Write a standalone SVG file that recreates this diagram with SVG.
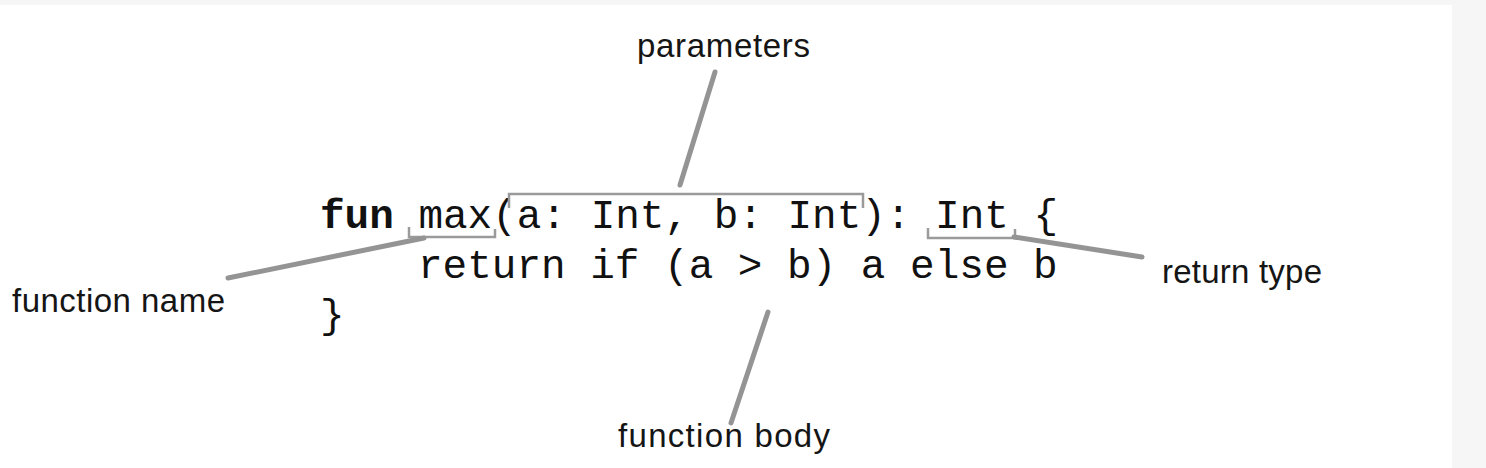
<svg xmlns="http://www.w3.org/2000/svg" width="1486" height="468" viewBox="0 0 1486 468">
<style>
.code{font-family:"Liberation Mono","Courier New",monospace;font-size:41px;fill:#111;white-space:pre}
.bold{font-weight:bold}
.lbl{font-family:"Liberation Sans",Arial,Helvetica,sans-serif;font-size:33px;fill:#151515}
.br{fill:none;stroke:#9a9a9a;stroke-width:2.5}
.ln{fill:none;stroke:#949494;stroke-width:5;stroke-linecap:round}
</style>
<rect x="0" y="0" width="1486" height="468" fill="#f6f6f6"/>
<rect x="0" y="5" width="1452" height="463" fill="#ffffff"/>
<g id="code">
<text class="code" x="320" y="228" xml:space="preserve"><tspan class="bold">fun</tspan> max(a: Int, b: Int): Int {</text>
<text class="code" x="418" y="278" xml:space="preserve">return if (a &gt; b) a else b</text>
<text class="code" x="320" y="328">}</text>
</g>
<g id="function-name">
<path class="br" d="M409,227 V237 H495 V229"/>
<text class="lbl" x="12" y="312" textLength="213">function name</text>
</g>
<g id="parameters">
<path class="br" d="M509,208 V194 H863 V208"/>
<text class="lbl" x="637" y="57" textLength="173">parameters</text>
</g>
<g id="return-type">
<path class="br" d="M928,228 V238 H1015 V229"/>
<text class="lbl" x="1162" y="283" textLength="160">return type</text>
</g>
<g id="function-body">
<text class="lbl" x="618" y="447" textLength="212">function body</text>
</g>
<g id="connectors">
<line class="ln" x1="424" y1="238" x2="228" y2="278"/>
<line class="ln" x1="680" y1="185" x2="715" y2="72"/>
<line class="ln" x1="1014" y1="237" x2="1142" y2="257"/>
<line class="ln" x1="768" y1="312" x2="731" y2="423"/>
</g>
</svg>
